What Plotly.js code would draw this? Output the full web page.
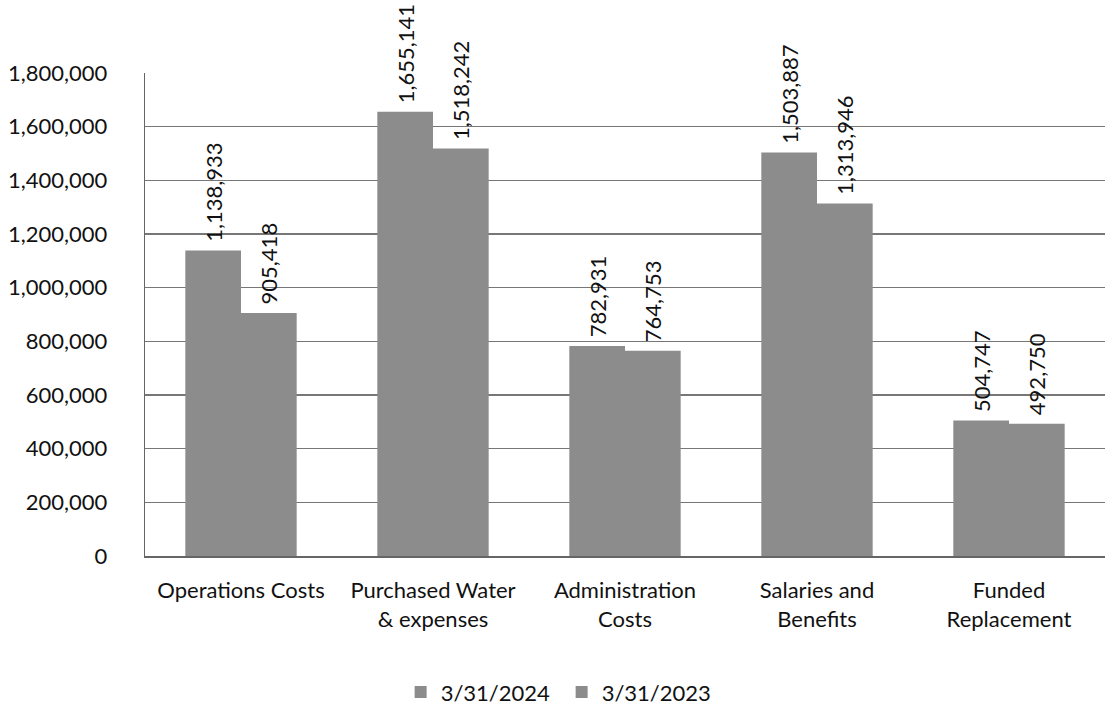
<!DOCTYPE html>
<html>
<head>
<meta charset="utf-8">
<script src="https://cdn.plot.ly/plotly-3.0.1.min.js"></script>
<style>html,body{margin:0;padding:0;background:#fff;}#chart{width:1109px;height:710px;}</style>
</head>
<body>
<div id="chart"></div>
<script>
const categories = ["Operations Costs", "Purchased Water<br>& expenses", "Administration<br>Costs", "Salaries and<br>Benefits", "Funded<br>Replacement"];
const series2024 = [1138933, 1655141, 782931, 1503887, 504747];
const series2023 = [905418, 1518242, 764753, 1313946, 492750];
const seriesNames = ["3/31/2024", "3/31/2023"];
const yTicks = [0, 200000, 400000, 600000, 800000, 1000000, 1200000, 1400000, 1600000, 1800000];

const fontFam = "Lato, 'Open Sans', sans-serif";
const fmt = v => v.toLocaleString('en-US');
const pad = '\u00a0';

function mk(name, vals) {
  return {
    type: 'bar', name: name, x: categories, y: vals,
    marker: {color: '#8c8c8c', line: {width: 0}},
    text: vals.map(v => pad + fmt(v)), textposition: 'outside', textangle: -90,
    constraintext: 'none', cliponaxis: false,
    textfont: {family: fontFam, size: 22, color: '#111'},
    hoverinfo: 'skip'
  };
}

const data = [mk(seriesNames[0], series2024), mk(seriesNames[1], series2023)];

const layout = {
  width: 1109, height: 710,
  margin: {l: 145, r: 4, t: 73, b: 154, autoexpand: false},
  paper_bgcolor: '#fff', plot_bgcolor: '#fff',
  barmode: 'group', bargap: 0.42, bargroupgap: 0,
  uniformtext: {mode: false},
  showlegend: true,
  legend: {orientation: 'h', x: 0.434, xanchor: 'center', yref: 'container', y: 0.025, yanchor: 'middle',
           font: {family: fontFam, size: 22, color: '#111'}, itemwidth: 30,
           entrywidth: 116, entrywidthmode: 'pixels', traceorder: 'normal'},
  font: {family: fontFam, color: '#111'},
  xaxis: {
    showline: true, linecolor: '#666', linewidth: 1.5, mirror: false,
    tickfont: {family: fontFam, size: 22, color: '#111'},
    ticks: '', ticklabelstandoff: 14, automargin: false
  },
  yaxis: {
    range: [0, 1800000], tickvals: yTicks, ticktext: yTicks.map(fmt),
    showgrid: true, gridcolor: '#777', gridwidth: 1.3,
    showline: true, linecolor: '#666', linewidth: 1.3,
    zeroline: false,
    tickfont: {family: fontFam, size: 22, color: '#111'},
    ticks: '', ticklabelstandoff: 32, automargin: false
  }
};

Plotly.newPlot('chart', data, layout, {displayModeBar: false, staticPlot: true});
</script>
</body>
</html>
